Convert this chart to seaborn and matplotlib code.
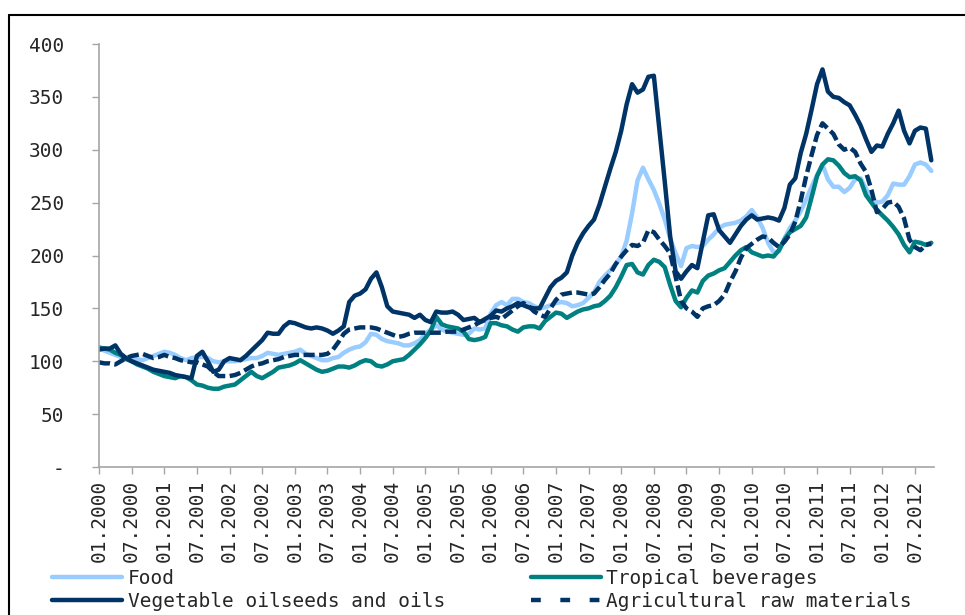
import numpy as np
import pandas as pd
import matplotlib.pyplot as plt
import seaborn as sns
from matplotlib.lines import Line2D

# monthly index values, 01.2000 - 10.2012
food = [113, 110, 108, 106, 104, 103, 103, 102, 101, 103, 105, 107,
        109, 108, 106, 103, 101, 103, 104, 104, 103, 100, 99, 100,
        100, 100, 101, 102, 103, 103, 105, 108, 107, 106, 107, 108,
        109, 111, 107, 105, 103, 101, 101, 103, 104, 108, 111, 113,
        114, 118, 126, 125, 121, 119, 118, 117, 115, 115, 117, 120,
        126, 130, 134, 130, 128, 127, 126, 125, 126, 131, 130, 131,
        145, 153, 156, 153, 159, 159, 156, 155, 152, 150, 151, 153,
        155, 156, 155, 152, 153, 155, 160, 165, 175, 181, 186, 192,
        199, 214, 240, 271, 283, 272, 262, 249, 234, 216, 202, 190,
        207, 209, 208, 209, 215, 220, 226, 229, 230, 231, 233, 237,
        243, 236, 226, 212, 203, 204, 216, 226, 233, 242, 253, 265,
        276, 286, 272, 265, 265, 260, 264, 272, 273, 263, 254, 250,
        251, 257, 268, 267, 267, 275, 286, 288, 286, 280]

tropical = [113, 112, 111, 108, 106, 102, 100, 97, 95, 93, 90, 88,
            86, 85, 84, 86, 85, 82, 78, 77, 75, 74, 74, 76,
            77, 78, 82, 86, 90, 86, 84, 87, 90, 94, 95, 96,
            98, 101, 98, 95, 92, 90, 91, 93, 95, 95, 94, 96,
            99, 101, 100, 96, 95, 97, 100, 101, 102, 106, 111, 116,
            122, 129, 142, 135, 133, 132, 131, 128, 121, 120, 121, 123,
            136, 136, 134, 133, 130, 128, 132, 133, 133, 131, 138, 142,
            146, 145, 141, 144, 147, 149, 150, 152, 153, 157, 162, 170,
            180, 191, 192, 184, 182, 191, 196, 194, 189, 172, 157, 151,
            160, 167, 165, 176, 181, 183, 186, 188, 194, 200, 205, 208,
            203, 201, 199, 200, 199, 205, 215, 222, 225, 228, 236, 255,
            275, 286, 291, 290, 285, 278, 274, 275, 271, 257, 250, 243,
            238, 233, 227, 220, 210, 203, 213, 212, 210, 212]

veg_oils = [111, 112, 112, 115, 107, 103, 100, 98, 96, 94, 92, 91,
            90, 89, 87, 86, 85, 84, 105, 109, 100, 90, 92, 100,
            103, 102, 101, 105, 110, 115, 120, 127, 126, 126, 133, 137,
            136, 134, 132, 131, 132, 131, 129, 126, 129, 133, 156, 162,
            164, 168, 178, 184, 170, 152, 147, 146, 145, 144, 141, 144,
            139, 137, 147, 146, 146, 147, 144, 139, 140, 141, 137, 140,
            143, 148, 147, 150, 152, 155, 153, 151, 150, 150, 160, 170,
            176, 179, 184, 200, 212, 221, 228, 234, 248, 265, 282, 298,
            318, 343, 362, 354, 357, 369, 370, 320, 270, 218, 185, 178,
            185, 191, 188, 213, 238, 239, 224, 218, 212, 220, 228, 234,
            238, 234, 235, 236, 235, 233, 245, 267, 273, 297, 315, 338,
            362, 376, 355, 350, 349, 345, 342, 333, 323, 310, 298, 304,
            303, 315, 325, 337, 318, 306, 318, 321, 320, 290]

agri_raw = [99, 98, 98, 97, 100, 103, 105, 106, 107, 105, 103, 104,
            106, 104, 103, 101, 100, 99, 99, 97, 95, 90, 86, 86,
            86, 87, 89, 92, 95, 97, 98, 100, 101, 102, 104, 105,
            106, 106, 106, 106, 106, 106, 107, 111, 118, 126, 130, 131,
            132, 132, 132, 131, 129, 127, 125, 123, 124, 126, 127, 127,
            127, 127, 127, 127, 128, 128, 128, 130, 132, 134, 137, 139,
            141, 142, 140, 144, 148, 152, 155, 152, 147, 144, 142, 150,
            158, 163, 164, 165, 165, 164, 163, 164, 170, 177, 183, 192,
            199, 205, 210, 209, 212, 224, 222, 215, 209, 202, 180, 157,
            150, 147, 142, 150, 152, 153, 157, 163, 175, 185, 198, 207,
            211, 215, 218, 217, 212, 208, 213, 220, 232, 252, 275, 295,
            314, 325, 320, 315, 305, 300, 302, 298, 287, 279, 262, 241,
            244, 250, 251, 246, 235, 215, 208, 205, 210, 211]

series_names = ["Food", "Tropical beverages", "Vegetable oilseeds and oils",
                "Agricultural raw materials"]
series_colors = ["#99CCFF", "#008080", "#003366", "#003366"]

months = np.arange(len(food))
tick_pos = np.arange(0, len(food), 6)
tick_labels = [("01" if p % 12 == 0 else "07") + "." + str(2000 + p // 12) for p in tick_pos]

df = pd.DataFrame({"month": months, "Food": food, "Tropical beverages": tropical,
                   "Vegetable oilseeds and oils": veg_oils,
                   "Agricultural raw materials": agri_raw})

sns.set_style("white")
plt.rcParams['font.family'] = ['DejaVu Sans Mono', 'DejaVu Sans']

fig = plt.figure(figsize=(9.65, 6.15), dpi=100)
ax = fig.add_axes([99 / 965, 1 - 467 / 615, 835 / 965, 423 / 615])

lw = 3.2
for name, col in zip(series_names, series_colors):
    if name == "Agricultural raw materials":
        sns.lineplot(data=df, x="month", y=name, ax=ax, color=col, linewidth=lw,
                     dashes=False).lines[-1].set_dashes((2.5, 1.0))
    else:
        sns.lineplot(data=df, x="month", y=name, ax=ax, color=col, linewidth=lw)
ax.lines[-1].set_dash_capstyle("butt")

ax.set_xlim(0, 153.5)
ax.set_ylim(0, 400)
ax.set_xticks(tick_pos)
ax.set_xticklabels(tick_labels, rotation=90)
yt = np.arange(0, 401, 50)
ax.set_yticks(yt)
ax.set_yticklabels(["-" if v == 0 else str(v) for v in yt])
ax.set_xlabel("")
ax.set_ylabel("")

grey = "#a6a6a6"
for s in ["top", "right"]:
    ax.spines[s].set_visible(False)
for s in ["left", "bottom"]:
    ax.spines[s].set_color(grey)
    ax.spines[s].set_linewidth(1.2)
ax.tick_params(axis="x", direction="out", length=5, width=1, color=grey,
               labelsize=14, pad=4, bottom=True)
ax.tick_params(axis="y", direction="out", length=5, width=1, color=grey,
               labelsize=14, pad=20, left=True)

# legend below the plot
handles = [
    Line2D([], [], color=series_colors[0], lw=lw),
    Line2D([], [], color=series_colors[2], lw=lw),
    Line2D([], [], color=series_colors[1], lw=lw),
    Line2D([], [], color=series_colors[3], lw=lw, dashes=(2.2, 4.4), dash_capstyle="butt"),
]
labels = [series_names[0], series_names[2], series_names[1], series_names[3]]
fig.legend(handles, labels, loc="upper left", bbox_to_anchor=(52 / 965, 1 - 569 / 615),
           ncol=2, frameon=False, fontsize=14, handlelength=3.6, handletextpad=0.3,
           columnspacing=4.4, labelspacing=0.2, borderpad=0, borderaxespad=0)

# frame of the chart area
fig.add_artist(Line2D([9 / 965, 9 / 965], [0, 1 - 15 / 615], transform=fig.transFigure,
                      color="black", lw=1.5))
fig.add_artist(Line2D([9 / 965, 1], [1 - 15 / 615, 1 - 15 / 615], transform=fig.transFigure,
                      color="black", lw=1.5))

plt.savefig("out.png", dpi=100)
